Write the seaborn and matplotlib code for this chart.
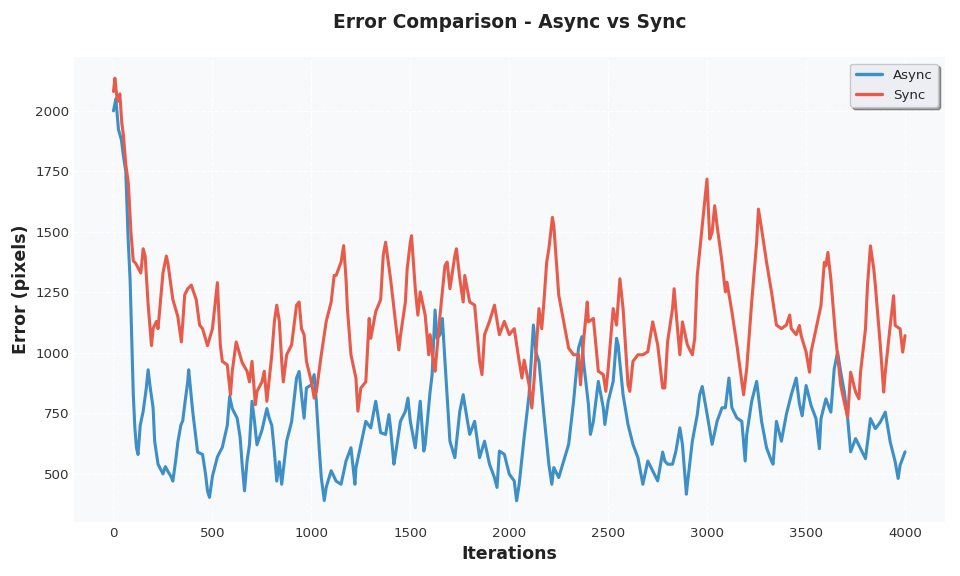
import matplotlib
matplotlib.use("Agg")
import matplotlib.pyplot as plt
import seaborn as sns

# ── Data ────────────────────────────────────────────────────────────────────

async_iter = [0, 12, 25, 40, 50, 62, 74, 84, 91, 100, 108, 116, 124, 135, 150, 165, 175, 185,
              200, 208, 225, 250, 262, 275, 290, 300, 315, 325, 340, 350, 362, 375, 380, 400,
              412, 425, 450, 465, 475, 485, 500, 525, 550, 575, 587, 600, 625, 640, 650, 662,
              675, 687, 700, 712, 725, 750, 775, 787, 800, 812, 825, 838, 850, 875, 900, 925,
              938, 950, 963, 975, 1000, 1014, 1025, 1040, 1050, 1065, 1075, 1100, 1125, 1150,
              1175, 1200, 1220, 1225, 1250, 1275, 1300, 1325, 1350, 1375, 1392, 1400, 1417,
              1425, 1450, 1475, 1488, 1500, 1525, 1550, 1568, 1575, 1600, 1610, 1625, 1635,
              1650, 1662, 1675, 1700, 1725, 1750, 1767, 1775, 1800, 1825, 1850, 1875, 1900,
              1925, 1938, 1950, 1975, 2000, 2025, 2037, 2050, 2075, 2100, 2122, 2135, 2150,
              2175, 2200, 2215, 2225, 2250, 2275, 2300, 2325, 2350, 2367, 2375, 2400, 2410,
              2425, 2450, 2475, 2483, 2500, 2525, 2542, 2550, 2575, 2600, 2625, 2650, 2675,
              2700, 2725, 2750, 2775, 2786, 2800, 2825, 2842, 2862, 2875, 2895, 2900, 2925,
              2950, 2962, 2975, 3000, 3025, 3050, 3075, 3092, 3110, 3125, 3150, 3175, 3192,
              3200, 3225, 3250, 3275, 3300, 3325, 3333, 3350, 3375, 3400, 3425, 3450, 3466,
              3480, 3500, 3525, 3550, 3567, 3575, 3600, 3625, 3642, 3659, 3675, 3693, 3710,
              3725, 3750, 3775, 3800, 3825, 3850, 3875, 3900, 3925, 3950, 3965, 3975, 4000]
async_err = [2000, 2050, 1923, 1880, 1814, 1750, 1471, 1300, 1100, 827, 690, 608, 580, 700, 759,
             850, 930, 860, 773, 635, 540, 500, 530, 510, 490, 470, 560, 630, 700, 720, 800,
             880, 930, 760, 680, 590, 580, 500, 430, 403, 490, 570, 610, 700, 820, 770, 730,
             650, 540, 430, 553, 620, 800, 720, 620, 680, 770, 730, 700, 600, 470, 550, 457,
             635, 715, 896, 923, 827, 730, 855, 868, 910, 800, 600, 485, 390, 445, 513, 470,
             457, 553, 608, 457, 525, 620, 717, 690, 800, 670, 663, 745, 690, 540, 581, 717,
             759, 813, 717, 608, 800, 594, 622, 840, 910, 1177, 1060, 1075, 1142, 965, 635,
             567, 759, 827, 786, 663, 717, 567, 635, 540, 485, 444, 594, 581, 499, 471, 389,
             457, 650, 827, 1115, 1000, 965, 745, 540, 457, 526, 485, 553, 622, 800, 1020,
             1067, 965, 786, 663, 717, 882, 773, 704, 800, 882, 1060, 1033, 827, 704, 622,
             567, 457, 553, 512, 471, 590, 553, 540, 540, 594, 690, 622, 416, 457, 635, 745,
             827, 861, 745, 622, 717, 773, 773, 896, 773, 731, 717, 553, 663, 800, 882, 717,
             608, 553, 540, 717, 635, 745, 827, 896, 790, 740, 865, 783, 728, 604, 728, 810,
             755, 934, 1003, 920, 838, 728, 591, 646, 604, 563, 728, 687, 714, 755, 632, 550,
             481, 536, 591]

sync_iter = [0, 7, 18, 25, 32, 42, 50, 62, 75, 88, 100, 112, 125, 138, 150, 160, 175, 192, 200,
             217, 225, 250, 267, 275, 300, 325, 343, 360, 375, 393, 418, 435, 450, 475, 500,
             525, 540, 550, 575, 591, 600, 620, 650, 675, 687, 700, 717, 725, 750, 762, 775,
             800, 813, 825, 838, 850, 858, 875, 900, 925, 938, 950, 963, 975, 1000, 1014, 1025,
             1050, 1075, 1100, 1115, 1125, 1150, 1163, 1175, 1182, 1200, 1225, 1235, 1250,
             1275, 1292, 1300, 1325, 1350, 1363, 1375, 1400, 1425, 1442, 1450, 1475, 1484,
             1500, 1506, 1525, 1538, 1550, 1575, 1593, 1600, 1620, 1625, 1650, 1675, 1686,
             1700, 1725, 1733, 1750, 1767, 1775, 1800, 1825, 1850, 1862, 1875, 1900, 1925,
             1950, 1975, 2000, 2025, 2050, 2064, 2075, 2100, 2114, 2125, 2150, 2164, 2175,
             2189, 2200, 2218, 2225, 2250, 2275, 2300, 2325, 2350, 2360, 2375, 2394, 2400,
             2425, 2450, 2475, 2488, 2500, 2525, 2542, 2559, 2575, 2600, 2609, 2625, 2650,
             2675, 2700, 2725, 2750, 2775, 2786, 2800, 2825, 2833, 2850, 2862, 2875, 2900,
             2925, 2937, 2950, 2975, 2987, 2999, 3013, 3025, 3038, 3050, 3075, 3092, 3100,
             3125, 3150, 3175, 3184, 3200, 3225, 3250, 3259, 3275, 3300, 3325, 3350, 3375,
             3400, 3417, 3425, 3450, 3466, 3475, 3500, 3517, 3525, 3550, 3575, 3592, 3600,
             3610, 3625, 3650, 3675, 3700, 3710, 3725, 3750, 3767, 3775, 3800, 3810, 3825,
             3842, 3850, 3875, 3892, 3900, 3925, 3942, 3950, 3975, 3988, 4000]
sync_err = [2080, 2135, 2050, 2040, 2070, 1950, 1900, 1780, 1700, 1500, 1380, 1370, 1350, 1330,
            1430, 1400, 1200, 1030, 1100, 1130, 1100, 1330, 1400, 1370, 1220, 1150, 1045, 1240,
            1265, 1280, 1220, 1115, 1100, 1030, 1100, 1290, 1030, 965, 950, 827, 924, 1045, 960,
            924, 880, 965, 786, 840, 880, 924, 800, 992, 1130, 1197, 1130, 965, 880, 992, 1033,
            1197, 1210, 1100, 1075, 965, 880, 813, 840, 992, 1130, 1210, 1320, 1320, 1375, 1443,
            1306, 1183, 992, 896, 759, 855, 880, 1142, 1060, 1170, 1220, 1402, 1457, 1306,
            1128, 1012, 1070, 1210, 1347, 1457, 1484, 1265, 1156, 1252, 1156, 992, 1075, 937,
            924, 1156, 1361, 1375, 1265, 1402, 1430, 1306, 1210, 1320, 1210, 1197, 965, 910,
            1075, 1130, 1197, 1075, 1130, 1075, 1100, 965, 896, 970, 868, 772, 882, 1183,
            1100, 1210, 1375, 1430, 1560, 1526, 1238, 1128, 1019, 992, 992, 868, 1046, 1210,
            1128, 1142, 924, 910, 841, 937, 1183, 1115, 1306, 1183, 868, 841, 965, 992, 992,
            1005, 1128, 1033, 855, 855, 1046, 1183, 1265, 1100, 992, 1128, 1033, 992, 1060,
            1320, 1526, 1622, 1718, 1470, 1498, 1608, 1526, 1375, 1252, 1292, 1170, 1033, 882,
            827, 937, 1210, 1457, 1594, 1512, 1375, 1252, 1115, 1100, 1115, 1156, 1100, 1075,
            1113, 1071, 1003, 920, 1003, 1099, 1195, 1374, 1360, 1415, 1305, 1058, 865, 769,
            735, 920, 838, 810, 920, 1099, 1277, 1442, 1346, 1277, 1030, 838, 920, 1113, 1236,
            1113, 1099, 1003, 1071]

ASYNC_COLOR = "#3d8fc6"
SYNC_COLOR = "#e65b4a"

# ── Plot ────────────────────────────────────────────────────────────────────

sns.set_style("whitegrid", {
    "axes.facecolor": "#f8f9fa",
    "grid.color": "white",
    "grid.linestyle": "--",
})

fig, ax = plt.subplots(figsize=(10, 6), dpi=96)

sns.lineplot(x=async_iter, y=async_err, ax=ax, color=ASYNC_COLOR, linewidth=2.3, label="Async")
sns.lineplot(x=sync_iter, y=sync_err, ax=ax, color=SYNC_COLOR, linewidth=2.3, label="Sync")

ax.set_title("Error Comparison - Async vs Sync", fontsize=14, fontweight="bold",
             color="#222222", pad=22)
ax.set_xlabel("Iterations", fontsize=13, fontweight="bold", color="#222222")
ax.set_ylabel("Error (pixels)", fontsize=13, fontweight="bold", color="#222222")
ax.set_xticks(range(0, 4001, 500))
ax.set_yticks(range(500, 2001, 250))
ax.tick_params(labelsize=10, colors="#333333", length=0)
ax.grid(True, color="white", linestyle="--", linewidth=0.9)

for s in ax.spines.values():
    s.set_visible(False)

leg = ax.legend(loc="upper right", fontsize=10, frameon=True, fancybox=True, shadow=True,
                facecolor="#eceef3", edgecolor="#c8c8cc", framealpha=1)
for line in leg.get_lines():
    line.set_linewidth(2.5)

fig.subplots_adjust(left=0.077, right=0.984, top=0.901, bottom=0.094)
fig.savefig("out.png", dpi=96)
